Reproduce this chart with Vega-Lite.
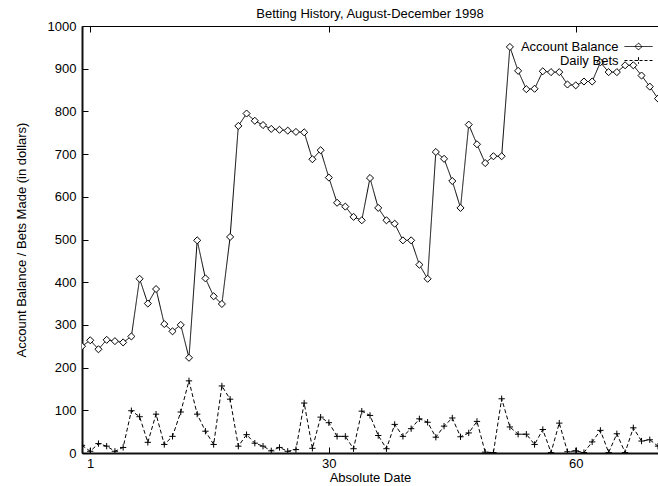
{
  "$schema": "https://vega.github.io/schema/vega-lite/v6.json",
  "width": 576,
  "height": 427,
  "autosize": {"type": "none"},
  "padding": {"left": 82, "top": 26, "right": 0, "bottom": 33},
  "background": "white",
  "title": {"text": "Betting History, August-December 1998", "fontSize": 13, "fontWeight": "normal", "font": "Liberation Sans", "color": "black", "offset": -1, "frame": "group"},
  "config": {
    "view": {"stroke": "black", "strokeWidth": 1},
    "font": "Liberation Sans",
    "axis": {"labelFont": "Liberation Sans", "titleFont": "Liberation Sans", "labelFontSize": 13, "titleFontSize": 13, "titleFontWeight": "normal", "labelColor": "black", "titleColor": "black", "domainColor": "#111111", "tickColor": "black", "grid": false}
  },
  "data": {"values": [
    {"day":0,"series":"Account Balance","value":250},{"day":1,"series":"Account Balance","value":264},{"day":2,"series":"Account Balance","value":243},{"day":3,"series":"Account Balance","value":265},{"day":4,"series":"Account Balance","value":262},{"day":5,"series":"Account Balance","value":259},{"day":6,"series":"Account Balance","value":273},{"day":7,"series":"Account Balance","value":408},{"day":8,"series":"Account Balance","value":350},{"day":9,"series":"Account Balance","value":384},
    {"day":10,"series":"Account Balance","value":302},{"day":11,"series":"Account Balance","value":285},{"day":12,"series":"Account Balance","value":300},{"day":13,"series":"Account Balance","value":223},{"day":14,"series":"Account Balance","value":498},{"day":15,"series":"Account Balance","value":409},{"day":16,"series":"Account Balance","value":367},{"day":17,"series":"Account Balance","value":349},{"day":18,"series":"Account Balance","value":506},{"day":19,"series":"Account Balance","value":766},
    {"day":20,"series":"Account Balance","value":795},{"day":21,"series":"Account Balance","value":778},{"day":22,"series":"Account Balance","value":768},{"day":23,"series":"Account Balance","value":759},{"day":24,"series":"Account Balance","value":757},{"day":25,"series":"Account Balance","value":755},{"day":26,"series":"Account Balance","value":752},{"day":27,"series":"Account Balance","value":751},{"day":28,"series":"Account Balance","value":688},{"day":29,"series":"Account Balance","value":709},
    {"day":30,"series":"Account Balance","value":645},{"day":31,"series":"Account Balance","value":586},{"day":32,"series":"Account Balance","value":577},{"day":33,"series":"Account Balance","value":553},{"day":34,"series":"Account Balance","value":545},{"day":35,"series":"Account Balance","value":644},{"day":36,"series":"Account Balance","value":574},{"day":37,"series":"Account Balance","value":545},{"day":38,"series":"Account Balance","value":537},{"day":39,"series":"Account Balance","value":498},
    {"day":40,"series":"Account Balance","value":498},{"day":41,"series":"Account Balance","value":441},{"day":42,"series":"Account Balance","value":408},{"day":43,"series":"Account Balance","value":705},{"day":44,"series":"Account Balance","value":689},{"day":45,"series":"Account Balance","value":637},{"day":46,"series":"Account Balance","value":574},{"day":47,"series":"Account Balance","value":769},{"day":48,"series":"Account Balance","value":723},{"day":49,"series":"Account Balance","value":679},
    {"day":50,"series":"Account Balance","value":695},{"day":51,"series":"Account Balance","value":695},{"day":52,"series":"Account Balance","value":951},{"day":53,"series":"Account Balance","value":895},{"day":54,"series":"Account Balance","value":852},{"day":55,"series":"Account Balance","value":853},{"day":56,"series":"Account Balance","value":894},{"day":57,"series":"Account Balance","value":892},{"day":58,"series":"Account Balance","value":892},{"day":59,"series":"Account Balance","value":863},
    {"day":60,"series":"Account Balance","value":861},{"day":61,"series":"Account Balance","value":870},{"day":62,"series":"Account Balance","value":870},{"day":63,"series":"Account Balance","value":915},{"day":64,"series":"Account Balance","value":892},{"day":65,"series":"Account Balance","value":892},{"day":66,"series":"Account Balance","value":908},{"day":67,"series":"Account Balance","value":908},{"day":68,"series":"Account Balance","value":884},{"day":69,"series":"Account Balance","value":858},{"day":70,"series":"Account Balance","value":830},
    {"day":0,"series":"Daily Bets","value":18},{"day":1,"series":"Daily Bets","value":4},{"day":2,"series":"Daily Bets","value":22},{"day":3,"series":"Daily Bets","value":16},{"day":4,"series":"Daily Bets","value":4},{"day":5,"series":"Daily Bets","value":13},{"day":6,"series":"Daily Bets","value":99},{"day":7,"series":"Daily Bets","value":85},{"day":8,"series":"Daily Bets","value":25},{"day":9,"series":"Daily Bets","value":91},
    {"day":10,"series":"Daily Bets","value":20},{"day":11,"series":"Daily Bets","value":39},{"day":12,"series":"Daily Bets","value":96},{"day":13,"series":"Daily Bets","value":169},{"day":14,"series":"Daily Bets","value":91},{"day":15,"series":"Daily Bets","value":51},{"day":16,"series":"Daily Bets","value":20},{"day":17,"series":"Daily Bets","value":157},{"day":18,"series":"Daily Bets","value":126},{"day":19,"series":"Daily Bets","value":16},
    {"day":20,"series":"Daily Bets","value":43},{"day":21,"series":"Daily Bets","value":23},{"day":22,"series":"Daily Bets","value":16},{"day":23,"series":"Daily Bets","value":5},{"day":24,"series":"Daily Bets","value":13},{"day":25,"series":"Daily Bets","value":4},{"day":26,"series":"Daily Bets","value":8},{"day":27,"series":"Daily Bets","value":117},{"day":28,"series":"Daily Bets","value":11},{"day":29,"series":"Daily Bets","value":84},
    {"day":30,"series":"Daily Bets","value":71},{"day":31,"series":"Daily Bets","value":39},{"day":32,"series":"Daily Bets","value":39},{"day":33,"series":"Daily Bets","value":10},{"day":34,"series":"Daily Bets","value":98},{"day":35,"series":"Daily Bets","value":88},{"day":36,"series":"Daily Bets","value":41},{"day":37,"series":"Daily Bets","value":10},{"day":38,"series":"Daily Bets","value":67},{"day":39,"series":"Daily Bets","value":39},
    {"day":40,"series":"Daily Bets","value":57},{"day":41,"series":"Daily Bets","value":80},{"day":42,"series":"Daily Bets","value":72},{"day":43,"series":"Daily Bets","value":37},{"day":44,"series":"Daily Bets","value":63},{"day":45,"series":"Daily Bets","value":82},{"day":46,"series":"Daily Bets","value":38},{"day":47,"series":"Daily Bets","value":47},{"day":48,"series":"Daily Bets","value":74},{"day":49,"series":"Daily Bets","value":2},
    {"day":50,"series":"Daily Bets","value":1},{"day":51,"series":"Daily Bets","value":127},{"day":52,"series":"Daily Bets","value":61},{"day":53,"series":"Daily Bets","value":44},{"day":54,"series":"Daily Bets","value":44},{"day":55,"series":"Daily Bets","value":20},{"day":56,"series":"Daily Bets","value":55},{"day":57,"series":"Daily Bets","value":1},{"day":58,"series":"Daily Bets","value":70},{"day":59,"series":"Daily Bets","value":3},
    {"day":60,"series":"Daily Bets","value":5},{"day":61,"series":"Daily Bets","value":1},{"day":62,"series":"Daily Bets","value":26},{"day":63,"series":"Daily Bets","value":53},{"day":64,"series":"Daily Bets","value":1},{"day":65,"series":"Daily Bets","value":45},{"day":66,"series":"Daily Bets","value":1},{"day":67,"series":"Daily Bets","value":59},{"day":68,"series":"Daily Bets","value":28},{"day":69,"series":"Daily Bets","value":31},{"day":70,"series":"Daily Bets","value":16}
  ]},
  "layer": [
    {
      "mark": {"type": "line", "color": "black", "strokeWidth": 1, "clip": true},
      "encoding": {
        "x": {"field": "day", "type": "quantitative", "scale": {"domain": [0, 70], "nice": false, "zero": false},
          "axis": {"orient": "bottom", "values": [1, 30, 60], "title": "Absolute Date", "tickSize": -6, "labelPadding": 10, "titlePadding": 1, "domainWidth": 2, "labelFlush": false}},
        "y": {"field": "value", "type": "quantitative", "scale": {"domain": [0, 1000], "nice": false},
          "axis": {"values": [0, 100, 200, 300, 400, 500, 600, 700, 800, 900, 1000], "format": "d", "title": "Account Balance / Bets Made (in dollars)", "tickSize": -6, "labelPadding": 12, "titlePadding": 19, "domainWidth": 2, "labelFlush": false}},
        "detail": {"field": "series", "type": "nominal"},
        "strokeDash": {"field": "series", "type": "nominal", "scale": {"domain": ["Account Balance", "Daily Bets"], "range": [[1, 0], [4, 2.5]]}, "legend": null}
      }
    },
    {
      "mark": {"type": "point", "fill": "white", "stroke": "black", "strokeWidth": 1, "opacity": 1, "clip": true},
      "encoding": {
        "x": {"field": "day", "type": "quantitative", "axis": {"orient": "top", "values": [1, 30, 60], "labels": false, "domain": false, "title": null, "tickSize": -6}},
        "y": {"field": "value", "type": "quantitative"},
        "shape": {"field": "series", "type": "nominal", "scale": {"domain": ["Account Balance", "Daily Bets"], "range": ["diamond", "M-1,0H1M0,-1V1"]}, "legend": null},
        "size": {"field": "series", "type": "nominal", "scale": {"domain": ["Account Balance", "Daily Bets"], "range": [50, 40]}, "legend": null}
      }
    },
    {
      "transform": [{"filter": "datum.day < 0"}],
      "mark": {"type": "point", "filled": false, "stroke": "black", "strokeWidth": 1, "opacity": 1},
      "encoding": {
        "x": {"field": "day", "type": "quantitative", "axis": null},
        "y": {"field": "value", "type": "quantitative"},
        "shape": {"field": "series", "type": "nominal", "scale": {"domain": ["Account Balance", "Daily Bets"], "range": ["M-2.33,0H2.33M0,-0.58L0.58,0L0,0.58L-0.58,0Z", "M-2.33,0H2.33M0,-0.55V0.55M-0.55,0H0.55"]},
          "legend": {"title": null, "orient": "none", "legendX": 550, "legendY": 14, "symbolSize": 144, "symbolStrokeWidth": 1, "symbolStrokeColor": "black", "symbolFillColor": "transparent", "labelAlign": "right", "labelOffset": -26.5, "labelFontSize": 13, "labelFont": "Liberation Sans", "labelColor": "black", "rowPadding": -2.5, "padding": 0, "offset": 0}},
        "strokeDash": {"field": "series", "type": "nominal", "scale": {"domain": ["Account Balance", "Daily Bets"], "range": [[1, 0], [3, 2]]},
          "legend": {"title": null, "orient": "none", "legendX": 550, "legendY": 14, "symbolSize": 144, "symbolStrokeWidth": 1, "symbolStrokeColor": "black", "symbolFillColor": "transparent", "labelAlign": "right", "labelOffset": -26.5, "labelFontSize": 13, "labelFont": "Liberation Sans", "labelColor": "black", "rowPadding": -2.5, "padding": 0, "offset": 0}}
      }
    }
  ],
  "resolve": {"axis": {"x": "independent"}, "scale": {"shape": "independent", "strokeDash": "independent", "size": "independent"}}
}
